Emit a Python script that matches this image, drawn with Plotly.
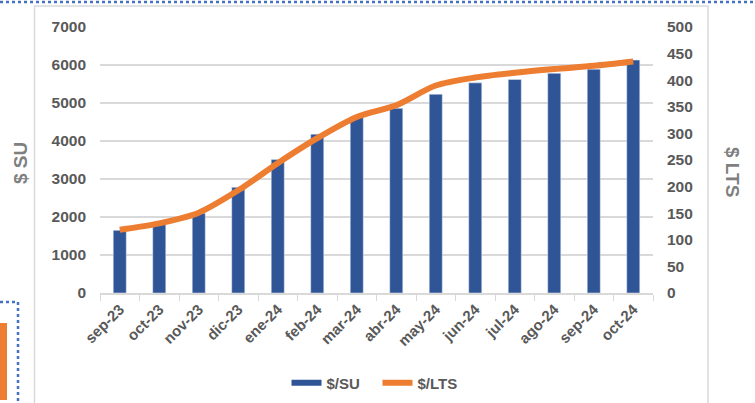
import plotly.graph_objects as go

months = ["sep-23", "oct-23", "nov-23", "dic-23", "ene-24", "feb-24", "mar-24",
          "abr-24", "may-24", "jun-24", "jul-24", "ago-24", "sep-24", "oct-24"]
su_values = [1650, 1820, 2100, 2780, 3510, 4180, 4640,
             4860, 5230, 5530, 5620, 5780, 5890, 6130]
lts_values = [119, 131, 151, 193, 244, 291, 331,
              353, 390, 405, 414, 421, 427, 435]

su_ticks = [0, 1000, 2000, 3000, 4000, 5000, 6000, 7000]
lts_ticks = [0, 50, 100, 150, 200, 250, 300, 350, 400, 450, 500]

BLUE = "#2f5597"
ORANGE = "#ed7d31"
GRAY = "#595959"
FONT = "Liberation Sans"

fig = go.Figure()
fig.add_trace(go.Bar(x=months, y=su_values, name="$/SU", marker_color=BLUE,
                     showlegend=False, yaxis="y"))
fig.add_trace(go.Scatter(x=months, y=lts_values, name="$/LTS", mode="lines",
                         line=dict(color=ORANGE, width=6, shape="spline", smoothing=0.8),
                         showlegend=False, yaxis="y2"))
# legend entries (styled like Excel swatches)
fig.add_trace(go.Scatter(x=[None], y=[None], name="<b>$/SU</b>", mode="lines",
                         line=dict(color=BLUE, width=6), yaxis="y"))
fig.add_trace(go.Scatter(x=[None], y=[None], name="<b>$/LTS</b>", mode="lines",
                         line=dict(color=ORANGE, width=6), yaxis="y2"))

L, R, T, B = 100, 102, 27, 110
W, H = 755, 403
pw, ph = W - L - R, H - T - B

def px(x):
    return (x - L) / pw

def py(y):
    return (H - B - y) / ph

shapes = [
    # chart box
    dict(type="rect", xref="paper", yref="paper", x0=px(34.5), x1=px(708), y0=py(420), y1=py(6),
         line=dict(color="#d9d9d9", width=1.5), fillcolor="rgba(0,0,0,0)", layer="below"),
    # top dotted line
    dict(type="line", xref="paper", yref="paper", x0=px(0), x1=px(755), y0=py(2), y1=py(2),
         line=dict(color="#4472c4", width=2.5, dash="dot")),
    # left dotted corner
    dict(type="line", xref="paper", yref="paper", x0=px(0), x1=px(18), y0=py(302), y1=py(302),
         line=dict(color="#4472c4", width=2.5, dash="dot")),
    dict(type="line", xref="paper", yref="paper", x0=px(18), x1=px(18), y0=py(302), y1=py(410),
         line=dict(color="#4472c4", width=2.5, dash="dot")),
    # orange block
    dict(type="rect", xref="paper", yref="paper", x0=px(-5), x1=px(7), y0=py(400), y1=py(323),
         line=dict(width=0), fillcolor=ORANGE),
]

tick_font = dict(family=FONT, size=15.5, color=GRAY, weight="bold")

fig.update_layout(
    width=W, height=H,
    margin=dict(l=L, r=R, t=T, b=B, autoexpand=False),
    paper_bgcolor="white", plot_bgcolor="white",
    font=dict(family=FONT, color=GRAY, size=14),
    bargap=0.67,
    showlegend=True,
    legend=dict(orientation="h", x=0.5, xanchor="center", xref="container",
                y=1 - 383 / H, yanchor="middle", yref="container",
                font=dict(family=FONT, size=15, color=GRAY), itemwidth=30,
                entrywidth=46, bgcolor="rgba(0,0,0,0)"),
    xaxis=dict(type="category", tickangle=-45, showline=True, linecolor="#d9d9d9",
               linewidth=1.5, ticks="outside", tickson="boundaries", ticklen=6,
               tickcolor="#d9d9d9", automargin=False,
               tickfont=dict(family=FONT, size=15, color=GRAY, weight="bold"),
               showgrid=False),
    yaxis=dict(range=[0, 7000], tickvals=su_ticks, showgrid=True, gridcolor="#d9d9d9",
               gridwidth=1.5, zeroline=False, ticks="", ticklabelstandoff=13,
               automargin=False, tickfont=tick_font),
    yaxis2=dict(range=[0, 500], tickvals=lts_ticks, overlaying="y", side="right",
                showgrid=False, zeroline=False, ticks="", ticklabelstandoff=13,
                automargin=False, tickfont=tick_font),
    shapes=shapes,
    annotations=[
        dict(text="<b>$ SU</b>", xref="paper", yref="paper", x=px(20), y=py(163),
             xanchor="center", yanchor="middle",
             textangle=-90, showarrow=False, font=dict(family=FONT, size=19, color="#7f7f7f")),
        dict(text="<b>$ LTS</b>", xref="paper", yref="paper", x=px(733), y=py(172),
             xanchor="center", yanchor="middle",
             textangle=90, showarrow=False, font=dict(family=FONT, size=19, color="#7f7f7f")),
    ],
)

fig.write_html("out.html", config={"displayModeBar": False},
               post_script="document.body.style.margin='0';document.body.style.overflow='hidden';")
